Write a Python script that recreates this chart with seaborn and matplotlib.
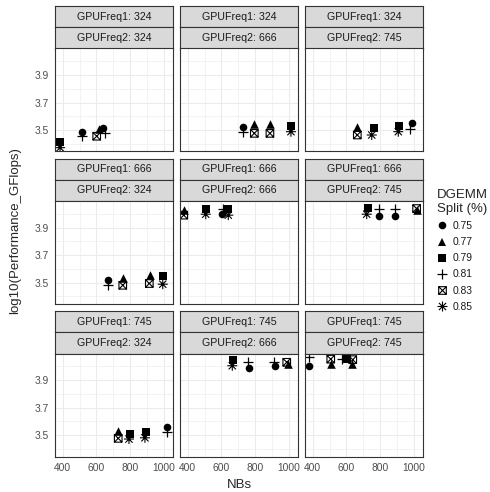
import matplotlib
matplotlib.use("Agg")
import matplotlib.pyplot as plt
from matplotlib.path import Path
from matplotlib.lines import Line2D
import pandas as pd
import seaborn as sns

# ---- data (one line per facet: GPUFreq1, GPUFreq2) ----
gpu_freq1 = (
    [324] * 8 + [324] * 8 + [324] * 8 +
    [666] * 8 + [666] * 8 + [666] * 8 +
    [745] * 8 + [745] * 8 + [745] * 8
)
gpu_freq2 = (
    [324] * 8 + [666] * 8 + [745] * 8 +
    [324] * 8 + [666] * 8 + [745] * 8 +
    [324] * 8 + [666] * 8 + [745] * 8
)
nbs = [
    384, 384, 512, 512, 602, 617, 637, 651,
    730, 730, 796, 796, 889, 889, 1014, 1014,
    665, 665, 764, 751, 915, 909, 989, 979,
    671, 671, 757, 757, 919, 915, 995, 995,
    376, 376, 507, 507, 602, 611, 641, 641,
    730, 721, 794, 794, 889, 889, 1018, 1018,
    730, 730, 800, 794, 895, 889, 1018, 1018,
    671, 665, 764, 757, 919, 915, 989, 998,
    379, 379, 507, 507, 602, 574, 638, 632,
]
dgemm_split = [
    0.79, 0.85, 0.75, 0.81, 0.83, 0.77, 0.75, 0.81,
    0.75, 0.81, 0.77, 0.83, 0.77, 0.83, 0.79, 0.85,
    0.77, 0.83, 0.79, 0.85, 0.79, 0.85, 0.75, 0.81,
    0.75, 0.81, 0.77, 0.83, 0.77, 0.83, 0.79, 0.85,
    0.77, 0.83, 0.79, 0.85, 0.75, 0.81, 0.79, 0.85,
    0.79, 0.85, 0.75, 0.81, 0.75, 0.81, 0.77, 0.83,
    0.77, 0.83, 0.79, 0.85, 0.79, 0.85, 0.75, 0.81,
    0.79, 0.85, 0.75, 0.81, 0.75, 0.81, 0.83, 0.77,
    0.75, 0.81, 0.83, 0.77, 0.79, 0.81, 0.83, 0.77,
]
log_perf = [
    3.415, 3.372, 3.483, 3.455, 3.455, 3.505, 3.517, 3.480,
    3.524, 3.488, 3.544, 3.476, 3.544, 3.476, 3.529, 3.488,
    3.520, 3.464, 3.512, 3.464, 3.529, 3.488, 3.553, 3.510,
    3.519, 3.480, 3.536, 3.480, 3.553, 3.493, 3.544, 3.488,
    4.026, 3.990, 4.033, 3.997, 3.997, 4.035, 4.038, 3.990,
    4.045, 3.997, 3.984, 4.033, 3.984, 4.033, 4.030, 4.038,
    3.531, 3.476, 3.507, 3.471, 3.524, 3.480, 3.556, 3.520,
    4.048, 4.004, 3.985, 4.029, 4.004, 4.030, 4.029, 4.020,
    4.004, 4.065, 4.052, 4.016, 4.052, 4.050, 4.048, 4.016,
]
freq_levels = [324, 666, 745]
split_levels = [0.75, 0.77, 0.79, 0.81, 0.83, 0.85]
x_ticks = [400, 600, 800, 1000]
y_ticks = [3.5, 3.7, 3.9]

df = pd.DataFrame({
    "GPUFreq1": gpu_freq1,
    "GPUFreq2": gpu_freq2,
    "NBs": nbs,
    "split": dgemm_split,
    "log_perf": log_perf,
})

# ---- point shapes: filled circle, triangle, square, plus, boxed x, asterisk ----
boxx_path = Path(
    [(-1, -1), (1, -1), (1, 1), (-1, 1), (-1, -1),
     (-1, -1), (1, 1), (-1, 1), (1, -1)],
    [Path.MOVETO, Path.LINETO, Path.LINETO, Path.LINETO, Path.CLOSEPOLY,
     Path.MOVETO, Path.LINETO, Path.MOVETO, Path.LINETO],
)
d = 0.72
star_path = Path(
    [(-1, 0), (1, 0), (0, -1), (0, 1), (-d, -d), (d, d), (-d, d), (d, -d)],
    [Path.MOVETO, Path.LINETO] * 4,
)
shape_styles = {
    0.75: dict(marker="o", s=30, color="black", linewidth=0),
    0.77: dict(marker="^", s=38, color="black", linewidth=0),
    0.79: dict(marker="s", s=30, color="black", linewidth=0),
    0.81: dict(marker="+", s=58, color="black", linewidth=0.9),
    0.83: dict(marker=boxx_path, s=30, facecolor="none", edgecolor="black", linewidth=0.8),
    0.85: dict(marker=star_path, s=52, facecolor="none", edgecolor="black", linewidth=0.8),
}

sns.set_theme(style="white")
plt.rcParams["font.family"] = ["Liberation Sans", "DejaVu Sans"]

W, H = 490, 492
fig = plt.figure(figsize=(W / 100, H / 100), dpi=100)

col_left = [54.7, 179.7, 304.7]
row_top = [48.5, 201.0, 353.5]
panel_w, panel_h, strip_h = 118.3, 103.0, 21.25
border = "#333333"


def rect(left, top, w, h):
    return [left / W, 1 - (top + h) / H, w / W, h / H]


def add_strip(left, top, label):
    sax = fig.add_axes(rect(left, top, panel_w, strip_h))
    sax.set_facecolor("#D9D9D9")
    sax.set_xticks([])
    sax.set_yticks([])
    for sp in sax.spines.values():
        sp.set_color(border)
        sp.set_linewidth(0.8)
    sax.text(0.5, 0.5, label, ha="center", va="center", fontsize=7.7,
             color="#1A1A1A", transform=sax.transAxes)


for r, f1 in enumerate(freq_levels):
    for c, f2 in enumerate(freq_levels):
        left, top = col_left[c], row_top[r]
        add_strip(left, top - 2 * strip_h, f"GPUFreq1: {f1}")
        add_strip(left, top - strip_h, f"GPUFreq2: {f2}")

        ax = fig.add_axes(rect(left, top, panel_w, panel_h))
        ax.set_facecolor("white")
        sub = df[(df.GPUFreq1 == f1) & (df.GPUFreq2 == f2)]
        for lvl in split_levels:
            pts = sub[sub.split == lvl]
            if len(pts):
                sns.scatterplot(data=pts, x="NBs", y="log_perf", ax=ax,
                                legend=False, **shape_styles[lvl])

        ax.set_xlim(352, 1056)
        ax.set_ylim(3.344, 4.093)
        ax.set_xticks(x_ticks)
        ax.set_xticks([500, 700, 900], minor=True)
        ax.set_yticks(y_ticks)
        ax.set_yticks([3.4, 3.6, 3.8, 4.0], minor=True)
        ax.set_xticklabels([str(t) for t in x_ticks])
        ax.set_yticklabels([f"{t:.1f}" for t in y_ticks])
        ax.set_axisbelow(True)
        ax.grid(which="major", color="#EBEBEB", linewidth=0.75)
        ax.grid(which="minor", color="#EBEBEB", linewidth=0.4)
        ax.set_xlabel("")
        ax.set_ylabel("")
        for sp in ax.spines.values():
            sp.set_color(border)
            sp.set_linewidth(0.8)
        ax.tick_params(which="major", length=2.9, width=0.7, color=border,
                       labelcolor="#4D4D4D", labelsize=7.4, pad=1.5)
        ax.tick_params(which="minor", length=0)
        if c > 0:
            ax.tick_params(left=False, labelleft=False)
        if r < 2:
            ax.tick_params(bottom=False, labelbottom=False)

fig.text(239 / W, 1 - 485 / H, "NBs", ha="center", va="center", fontsize=9.5)
fig.text(15 / W, 1 - 231 / H, "log10(Performance_GFlops)", ha="center",
         va="center", rotation=90, fontsize=9.5)

handles = []
for lvl in split_levels:
    st = shape_styles[lvl]
    ms = st["s"] ** 0.5
    if st["marker"] in ("o", "^", "s"):
        h = Line2D([], [], linestyle="", marker=st["marker"], markersize=ms,
                   markerfacecolor="black", markeredgewidth=0)
    else:
        h = Line2D([], [], linestyle="", marker=st["marker"], markersize=ms,
                   markerfacecolor="none", markeredgecolor="black",
                   markeredgewidth=st["linewidth"])
    handles.append(h)

leg = fig.legend(handles, [f"{v:.2f}" for v in split_levels],
                 title="DGEMM\nSplit (%)", loc="upper left",
                 bbox_to_anchor=(437 / W, 1 - 189 / H), frameon=False,
                 fontsize=7.4, title_fontsize=9.5, alignment="left",
                 handlelength=1.0, handletextpad=0.5, labelspacing=0.6,
                 borderpad=0, borderaxespad=0)
for t in leg.get_texts():
    t.set_color("#1A1A1A")

fig.savefig("out.png", dpi=100)
